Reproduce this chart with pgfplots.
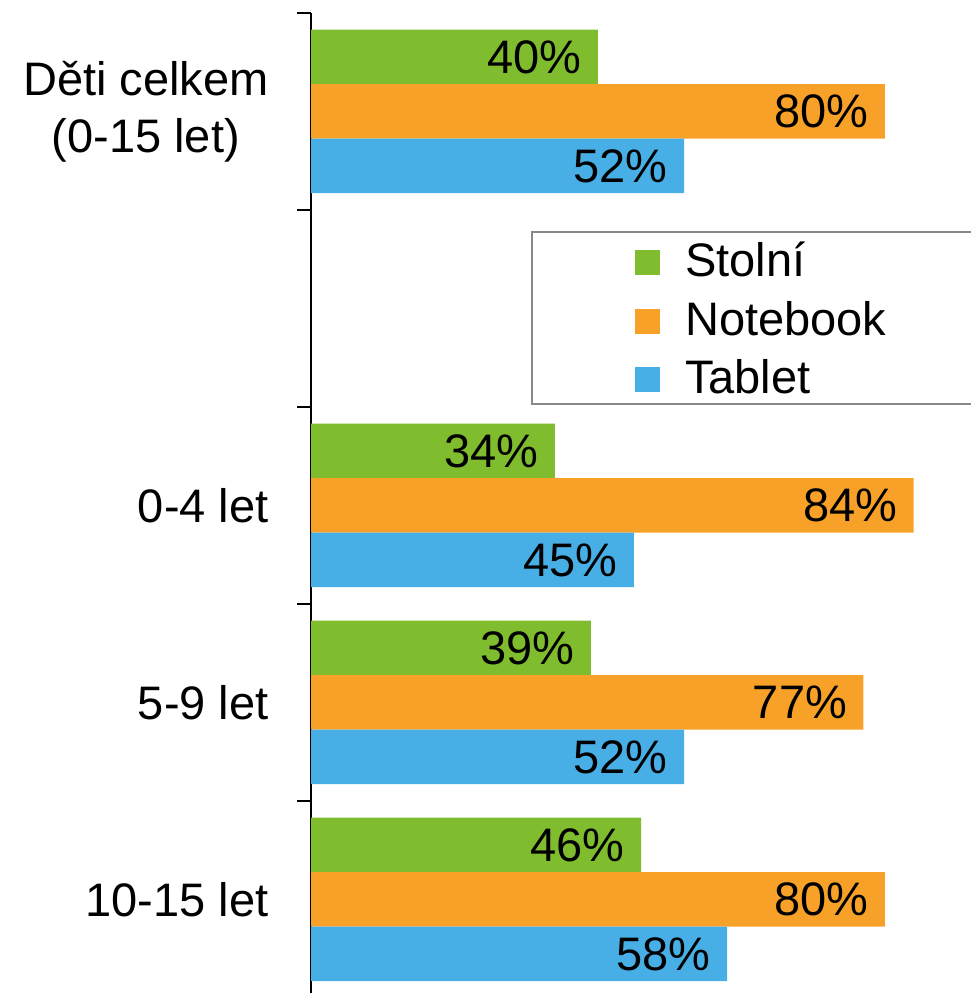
\documentclass[border=0pt]{standalone}
\usepackage{pgfplots}
\pgfplotsset{compat=1.18}
\usepackage{fontspec}
\setmainfont{Liberation Sans}
\definecolor{cgreen}{RGB}{128,189,46}
\definecolor{corange}{RGB}{248,161,40}
\definecolor{cblue}{RGB}{72,174,230}
\definecolor{cframe}{RGB}{136,136,136}
\begin{document}
\begin{tikzpicture}
\begin{axis}[
  scale only axis,
  width=330pt, height=492.5pt,
  xmin=0, xmax=92,
  ymin=-0.5, ymax=4.5,
  enlargelimits=false,
  axis x line=none,
  axis y line*=left,
  y axis line style={line width=1pt, black},
  xtick=\empty,
  ytick={0,1,2,4},
  yticklabels={10-15 let, 5-9 let, 0-4 let, {Děti celkem\\(0-15 let)}},
  yticklabel style={align=center, font=\fontsize{23.5}{28.5}\selectfont, inner sep=0pt, xshift=-21pt},
  major tick length=0pt,
  minor ytick={-0.5,0.5,1.5,2.5,3.5,4.5},
  minor tick length=7pt,
  tick align=outside,
  ytick style={line width=1pt, black},
  xbar, bar width=27.25pt,
  point meta=x,
  nodes near coords={\pgfmathprintnumber[assume math mode=true]{\pgfplotspointmeta}\%},
  every node near coord/.append style={anchor=east, xshift=-8pt, inner sep=0pt, font=\fontsize{23.5}{28}\selectfont, text=black},
  legend style={
    at={(0.3344,0.7716)}, anchor=north west,
    draw=none, fill=none,
    font=\fontsize{23.5}{28}\selectfont,
    inner xsep=51.5pt, inner ysep=6pt,
    row sep=16pt,
    nodes={inner sep=0pt, text height=0.7em, text depth=0pt},
    /tikz/every odd column/.append style={column sep=12.5pt},
  },
  legend cell align=left,
  legend image code/.code={\fill[#1,draw=none] (0pt,-2.75pt) rectangle (12.5pt,9.75pt);},
  clip=false,
]
\draw[cframe, line width=1pt, fill=white] (rel axis cs:0.3344,0.7777) rectangle (rel axis cs:1.05,0.6030);
\addplot[fill=cgreen, draw=none, bar shift=27.25pt] coordinates {(40,4) (34,2) (39,1) (46,0)};
\addplot[fill=corange, draw=none, bar shift=0pt] coordinates {(80,4) (84,2) (77,1) (80,0)};
\addplot[fill=cblue, draw=none, bar shift=-27.25pt] coordinates {(52,4) (45,2) (52,1) (58,0)};
\legend{Stolní, Notebook, Tablet}
\coordinate (BL) at (rel axis cs:0,0);
\coordinate (TR) at (rel axis cs:1,1);
\end{axis}
\pgfresetboundingbox
\path[use as bounding box] ([xshift=-155.5pt,yshift=2.5pt]BL) rectangle ([yshift=6.5pt]TR);
\end{tikzpicture}
\end{document}
